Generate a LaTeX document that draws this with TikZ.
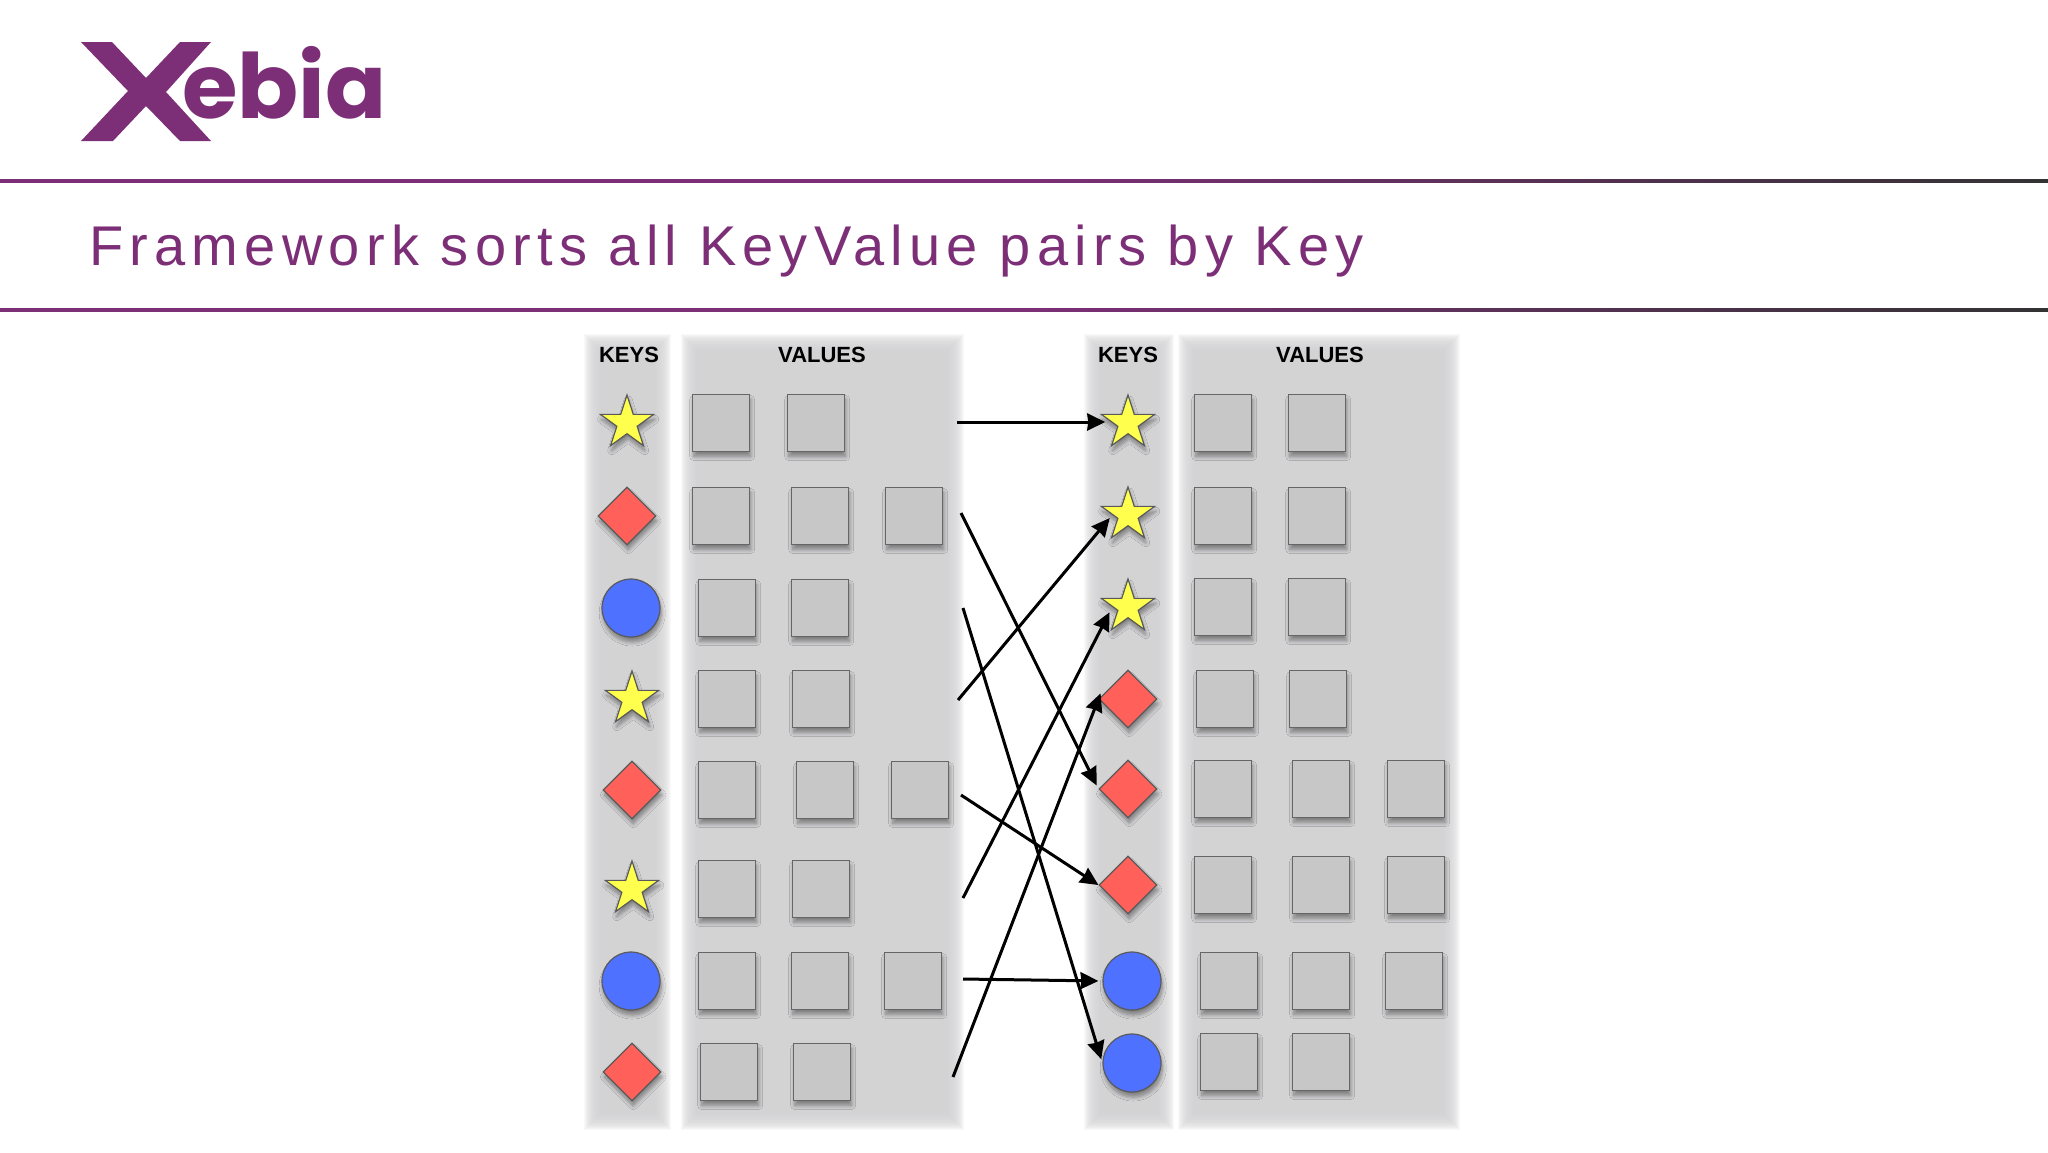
\documentclass[tikz,border=0pt]{standalone}
\usepackage{fontspec}
\setmainfont{Liberation Sans}
\newfontfamily\titlefont[LetterSpace=11.1]{Liberation Sans}
\newfontfamily\logofont{Poppins}
\usepackage{xcolor}
\usetikzlibrary{shapes.geometric, arrows.meta, shadows.blur}
\definecolor{xebia}{HTML}{7C2F77}
\definecolor{panelgray}{HTML}{CFCED0}
\definecolor{boxgray}{HTML}{C8C7C8}
\definecolor{keyyellow}{HTML}{FFFF4D}
\definecolor{keyred}{HTML}{FF615A}
\definecolor{keyblue}{HTML}{4E71FF}

\begin{document}
\begin{tikzpicture}[x=0.5pt, y=-0.5pt,
    soft/.style={blur shadow={shadow xshift=0.6pt, shadow yshift=-2.5pt, shadow blur steps=8, shadow blur radius=2pt, shadow opacity=40}},
    valbox/.style={draw=black!60, line width=0.7pt, fill=boxgray, minimum size=28.5pt, inner sep=0pt, soft},
    keyshape/.style={draw=black!65, line width=0.6pt, inner sep=0pt, soft},
    starkey/.style={keyshape, star, star points=5, star point ratio=2.618, fill=keyyellow, minimum size=28pt},
    diakey/.style={keyshape, diamond, fill=keyred, minimum size=29pt},
    circkey/.style={keyshape, circle, fill=keyblue, minimum size=29pt},
    head/.style={font=\bfseries\fontsize{11}{13}\selectfont, inner sep=0pt},
    arr/.style={-{Stealth[length=9pt, width=8.5pt, inset=0.5pt]}, line width=1.5pt, shorten >=2pt}]
  \useasboundingbox (0,0) rectangle (2048,1152);

  % Logo
  \fill[xebia] (81,42) -- (112,42) -- (146,78) -- (180,42) -- (211,42) -- (166,92) -- (211,141)
    -- (180,141) -- (146,106) -- (113,141) -- (81,141) -- (128,91) -- cycle;
  \node[anchor=base west, inner sep=0pt, text=xebia, font=\logofont\bfseries\fontsize{45}{45}\selectfont] (logotext) at (182,118) {ebia};

  % Titelzeile
  \shade[left color=xebia, right color=black!80, middle color=xebia] (0,179.5) rectangle (2048,182.5);
  \shade[left color=xebia, right color=black!80, middle color=xebia] (0,308.5) rectangle (2048,311.5);
  \node[anchor=base west, inner sep=0pt, text=xebia, font=\titlefont\fontsize{28}{32}\selectfont] (title) at (89,265) {Framework sorts all KeyValue pairs by Key};

  % Spalten
  \foreach \xa/\xb in {590/665, 687/958, 1090/1168, 1184/1454} {
      \foreach \d in {-6,-5,...,10} {
          \fill[panelgray, opacity=0.13] (\xa+\d,340+\d) rectangle (\xb-\d,1124-\d);
      }
  }
  \node[head] (keysL) at (629,355) {KEYS};
  \node[head] (valuesL) at (822,355) {VALUES};
  \node[head] (keysR) at (1128,355) {KEYS};
  \node[head] (valuesR) at (1320,355) {VALUES};

  % Schluessel
  \foreach \r/\kind/\x/\y in {1/starkey/627/423, 2/diakey/627/516, 3/circkey/631/608, 4/starkey/632/699,
      5/diakey/632/790, 6/starkey/632/889, 7/circkey/631/981, 8/diakey/632/1072} {
      \node[\kind] (keyL\r) at (\x,\y) {};
  }
  \foreach \r/\kind/\x/\y in {1/starkey/1128/423, 2/starkey/1128/515, 3/starkey/1128/607, 4/diakey/1128/699,
      5/diakey/1128/789, 6/diakey/1128/885, 7/circkey/1132/981, 8/circkey/1132/1063} {
      \node[\kind] (keyR\r) at (\x,\y) {};
  }

  % Werte
  \foreach \r/\y/\xs in {1/423/{721,816}, 2/516/{721,820,914}, 3/608/{727,820}, 4/699/{727,821},
      5/790/{727,825,920}, 6/889/{727,821}, 7/981/{727,820,913}, 8/1072/{729,822}} {
      \foreach \x [count=\c] in \xs {
          \node[valbox] (valL\r\c) at (\x,\y) {};
      }
  }
  \foreach \r/\y/\xs in {1/423/{1223,1317}, 2/516/{1223,1317}, 3/607/{1223,1317}, 4/699/{1225,1318},
      5/789/{1223,1321,1416}, 6/885/{1223,1321,1416}, 7/981/{1229,1321,1414}, 8/1062/{1229,1321}} {
      \foreach \x [count=\c] in \xs {
          \node[valbox] (valR\r\c) at (\x,\y) {};
      }
  }

  % Pfeile
  \coordinate (fromA) at (957,422);
  \coordinate (fromB) at (961,513);
  \coordinate (fromC) at (963,608);
  \coordinate (fromD) at (958,700);
  \coordinate (fromE) at (961,795);
  \coordinate (fromF) at (963,898);
  \coordinate (fromG) at (963,979);
  \coordinate (fromH) at (953,1077);
  \draw[arr, shorten >=3.5pt] (fromA) -- (keyR1.west |- fromA);
  \draw[arr] (fromB) -- (keyR5.west);
  \draw[arr] (fromC) -- (keyR8.west);
  \draw[arr] (fromD) -- (keyR2.west);
  \draw[arr, shorten >=0pt] (fromE) -- (keyR6.west);
  \draw[arr, shorten >=3pt] (fromF) -- (keyR3.west);
  \draw[arr] (fromG) -- (keyR7.west);
  \draw[arr, shorten >=-3pt] (fromH) -- (keyR4.west);
\end{tikzpicture}
\end{document}
